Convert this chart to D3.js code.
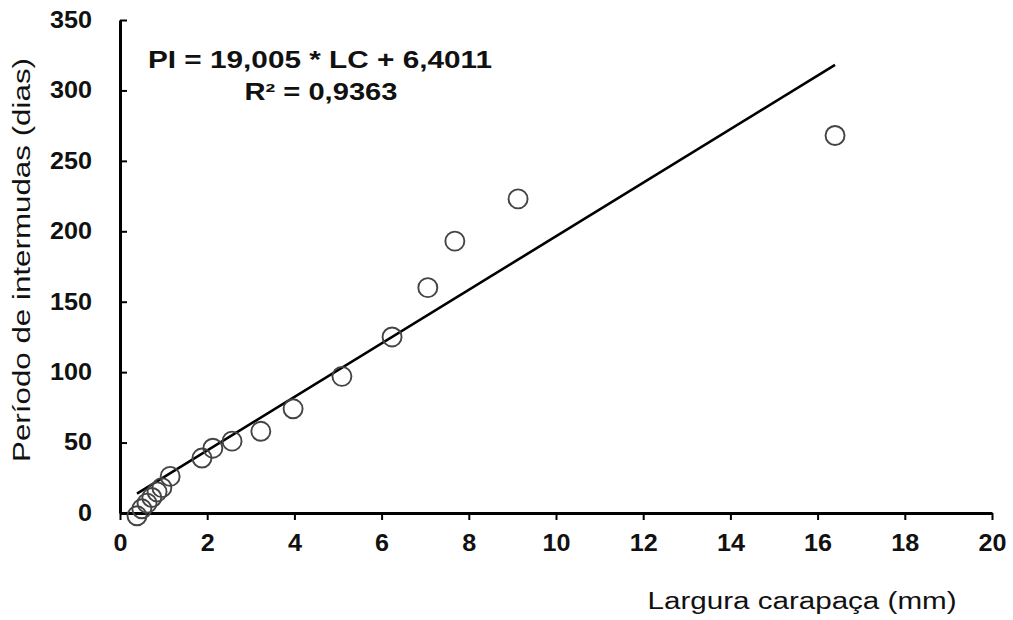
<!DOCTYPE html>
<html>
<head>
<meta charset="utf-8">
<script src="https://cdn.jsdelivr.net/npm/d3@7"></script>
<style>
  body { margin: 0; background: #fff; }
  svg { display: block; font-family: "Liberation Sans", Arial, sans-serif; }
</style>
</head>
<body>
<svg id="chart" width="1013" height="620"></svg>
<script>
// carapace width (mm) and intermolt period (days)
var larguraLC = [0.39, 0.5, 0.62, 0.73, 0.85, 0.96, 1.15, 1.88, 2.13, 2.57, 3.23, 3.97, 5.09, 6.24, 7.06, 7.68, 9.13, 16.4];
var periodoPI = [-2, 3, 7, 11, 15, 18, 26, 39, 46, 51, 58, 74, 97, 125, 160, 193, 223, 268];

var xTicks = [0, 2, 4, 6, 8, 10, 12, 14, 16, 18, 20];
var yTicks = [0, 50, 100, 150, 200, 250, 300, 350];

// fitted line: PI = 19,005 * LC + 6,4011
var slope = 19.005, intercept = 6.4011;
var eqLines = ["PI = 19,005 * LC + 6,4011", "R\u00b2 = 0,9363"];

var svg = d3.select("#chart");

var x = d3.scaleLinear().domain([0, 20]).range([120, 992]);
var y = d3.scaleLinear().domain([0, 350]).range([513, 20]);

// axes
var xAxis = svg.append("g")
    .attr("transform", "translate(0," + y(0) + ")")
    .call(d3.axisBottom(x).tickValues(xTicks).tickSize(7).tickSizeOuter(0).tickPadding(15));

var yAxis = svg.append("g")
    .attr("transform", "translate(" + x(0) + ",0)")
    .call(d3.axisLeft(y).tickValues(yTicks).tickSize(-7).tickSizeOuter(0).tickPadding(28));

[xAxis, yAxis].forEach(function(ax) {
    ax.select(".domain").attr("stroke", "#000").attr("stroke-width", 3);
    ax.selectAll(".tick line").attr("stroke", "#000").attr("stroke-width", 2);
    ax.selectAll(".tick text")
        .attr("fill", "#111")
        .attr("font-size", 23)
        .attr("font-weight", "bold")
        .attr("font-family", "'Liberation Sans', Arial, sans-serif")
        .attr("textLength", function(d) { return String(d).length * 14; })
        .attr("lengthAdjust", "spacingAndGlyphs");
});

// regression line over the data range
var xMin = d3.min(larguraLC), xMax = d3.max(larguraLC);
svg.append("line")
    .attr("x1", x(xMin)).attr("y1", y(slope * xMin + intercept))
    .attr("x2", x(xMax)).attr("y2", y(slope * xMax + intercept))
    .attr("stroke", "#000")
    .attr("stroke-width", 2.6);

// points
svg.append("g").selectAll("circle")
    .data(larguraLC)
    .enter().append("circle")
    .attr("cx", function(d) { return x(d); })
    .attr("cy", function(d, i) { return y(periodoPI[i]); })
    .attr("r", 9.5)
    .attr("fill", "none")
    .attr("stroke", "#444")
    .attr("stroke-width", 1.9);

// equation
svg.append("text")
    .attr("x", 320).attr("y", 68)
    .attr("text-anchor", "middle")
    .attr("font-size", 23).attr("font-weight", "bold").attr("fill", "#111")
    .attr("textLength", 344).attr("lengthAdjust", "spacingAndGlyphs")
    .text(eqLines[0]);
svg.append("text")
    .attr("x", 321).attr("y", 100)
    .attr("text-anchor", "middle")
    .attr("font-size", 23).attr("font-weight", "bold").attr("fill", "#111")
    .attr("textLength", 153).attr("lengthAdjust", "spacingAndGlyphs")
    .text(eqLines[1]);

// axis titles
svg.append("text")
    .attr("x", 802).attr("y", 609)
    .attr("text-anchor", "middle")
    .attr("font-size", 23).attr("fill", "#111")
    .attr("textLength", 309).attr("lengthAdjust", "spacingAndGlyphs")
    .text("Largura carapaça (mm)");

svg.append("text")
    .attr("transform", "translate(30,260) rotate(-90)")
    .attr("text-anchor", "middle")
    .attr("font-size", 23).attr("fill", "#111")
    .attr("textLength", 404).attr("lengthAdjust", "spacingAndGlyphs")
    .text("Período de intermudas (dias)");
</script>
</body>
</html>
